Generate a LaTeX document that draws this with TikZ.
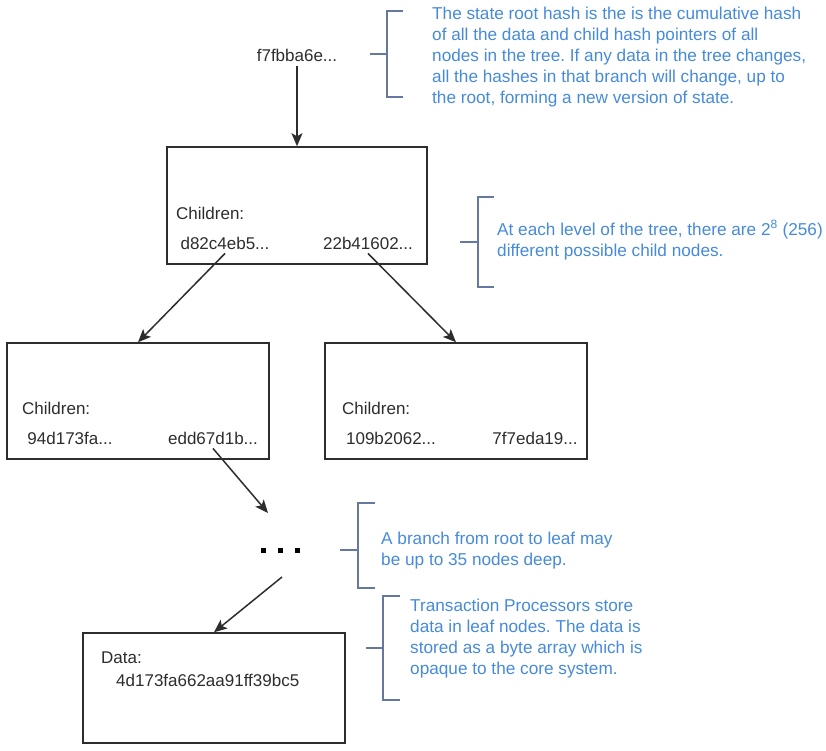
\documentclass[tikz,border=0pt]{standalone}
\usepackage{fontspec}
\setmainfont{Liberation Sans}
\frenchspacing
\usetikzlibrary{arrows.meta}
\definecolor{ink}{RGB}{45,45,45}
\definecolor{notecol}{RGB}{70,138,218}
\definecolor{brackcol}{RGB}{100,120,160}
\tikzset{
  box/.style={draw=ink, line width=1.5pt, minimum width=#1, inner sep=0pt},
  lbl/.style={text=ink, inner sep=0pt, font=\fontsize{17}{21}\selectfont},
  note/.style={text=notecol, inner sep=0pt, anchor=west, align=left, font=\fontsize{17.2}{21}\selectfont},
  link/.style={draw=ink, line width=1.5pt, -{Stealth[length=13pt,width=11pt,inset=3pt]}},
  brack/.style={draw=brackcol, line width=1.8pt}
}
\begin{document}
\begin{tikzpicture}[x=1pt,y=-1pt]
\useasboundingbox (0,0) rectangle (826,751);
% boxes
\node[box=260pt, minimum height=117pt] (b1) at (297,205.5) {};
\node[box=262pt, minimum height=116pt] (b2) at (138,401) {};
\node[box=262pt, minimum height=116pt] (b3) at (456,401) {};
\node[box=262pt, minimum height=110pt] (b4) at (214,688) {};
% texts
\node[lbl] (root) at (297,55) {f7fbba6e...};
\node[lbl, anchor=west] (c1) at (176,213) {Children:};
\node[lbl] (h1a) at (225,243) {d82c4eb5...};
\node[lbl] (h1b) at (368,243) {22b41602...};
\node[lbl, anchor=west] (c2) at (22,408) {Children:};
\node[lbl] (h2a) at (70,438) {94d173fa...};
\node[lbl] (h2b) at (213,438) {edd67d1b...};
\node[lbl, anchor=west] (c3) at (342,408) {Children:};
\node[lbl] (h3a) at (391,438) {109b2062...};
\node[lbl] (h3b) at (535,438) {7f7eda19...};
\node[lbl, anchor=west] (d4) at (101,658) {Data:};
\node[lbl, anchor=west] (h4) at (116,680) {4d173fa662aa91ff39bc5};
% dots
\node[inner sep=0pt, text=black] (dots) at (280,550) {\rule{5pt}{5pt}\hspace{12pt}\rule{5pt}{5pt}\hspace{12pt}\rule{5pt}{5pt}};
\coordinate (din) at (268,513);
\coordinate (dout) at (282,577);
% connectors
\draw[link] ([yshift=-5pt]root.south) -- (b1.north);
\draw[link] ([yshift=-4pt]h1a.south) -- (b2.north);
\draw[link] ([yshift=-4pt]h1b.south) -- (b3.north);
\draw[link] ([yshift=-4pt]h2b.south) -- (din);
\draw[link] (dout) -- (b4.north);
% notes
\node[note] (n1) at (432,57) {The state root hash is the is the cumulative hash\\of all the data and child hash pointers of all\\nodes in the tree. If any data in the tree changes,\\all the hashes in that branch will change, up to\\the root, forming a new version of state.};
\node[note] (n2) at (497,240) {At each level of the tree, there are 2\textsuperscript{8} (256)\\different possible child nodes.};
\node[note] (n3) at (381,551) {A branch from root to leaf may\\be up to 35 nodes deep.};
\node[note] (n4) at (410,639) {Transaction Processors store\\data in leaf nodes. The data is\\stored as a byte array which is\\opaque to the core system.};
% brackets
\draw[brack] (403,11) -- (387,11) -- (387,97) -- (403,97);
\draw[brack] (370,54) -- (387,54);
\draw[brack] (494,197) -- (478,197) -- (478,287) -- (494,287);
\draw[brack] (460,242) -- (478,242);
\draw[brack] (375,503) -- (358,503) -- (358,588) -- (375,588);
\draw[brack] (340,550) -- (358,550);
\draw[brack] (400,596) -- (383,596) -- (383,700) -- (400,700);
\draw[brack] (366,648) -- (383,648);
\end{tikzpicture}
\end{document}
